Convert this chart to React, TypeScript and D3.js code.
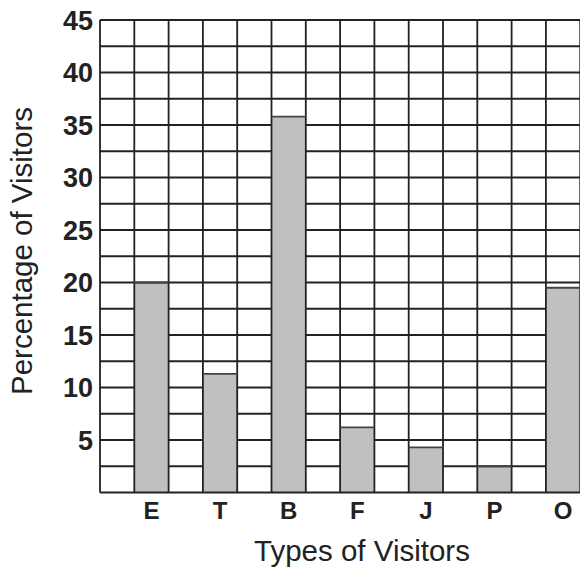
import React from "react";
import * as d3 from "d3";

const categories = ["E", "T", "B", "F", "J", "P", "O"];
const values = [20, 11.3, 35.8, 6.2, 4.3, 2.5, 19.5];
const yTicks = [5, 10, 15, 20, 25, 30, 35, 40, 45];
const yGrid = d3.range(0, 45.01, 2.5);
const columns = d3.range(0, 15);

export default function App() {
  const W = 580, H = 570;
  const left = 100, top = 20, bottom = 492.5;
  const colW = 34.3;
  const y = d3.scaleLinear().domain([0, 45]).range([bottom, top]);
  const x = (i: number) => left + i * colW;
  const right = x(14);
  const font = "'Liberation Sans', Arial, sans-serif";
  return (
    <svg width={W} height={H} style={{ position: "absolute", left: 0, top: 0 }}>
      <rect x={0} y={0} width={W} height={H} fill="#fff" />
      {categories.map((c, i) => (
        <rect key={c} x={x(2 * i + 1)} y={y(values[i])} width={colW} height={bottom - y(values[i])}
          fill="#c0c0c0" />
      ))}
      {yGrid.map((v) => {
        const segs: [number, number][] = [];
        let start = left;
        categories.forEach((c, i) => {
          if (values[i] > v && v > 0) {
            segs.push([start, x(2 * i + 1)]);
            start = x(2 * i + 2);
          }
        });
        segs.push([start, right]);
        return segs.map(([a, b], k) => (
          <line key={v + "-" + k} x1={a} x2={b} y1={y(v)} y2={y(v)} stroke="#222" strokeWidth={1.8} />
        ));
      })}
      {columns.map((i) => (
        <line key={"c" + i} x1={x(i)} x2={x(i)} y1={top} y2={bottom} stroke="#222" strokeWidth={1.8} />
      ))}
      {categories.map((c, i) => (
        <line key={"t" + c} x1={x(2 * i + 1)} x2={x(2 * i + 2)} y1={y(values[i])} y2={y(values[i])}
          stroke="#444" strokeWidth={1.8} />
      ))}
      {yTicks.map((t) => (
        <text key={t} x={93} y={y(t)} dy="0.36em" textAnchor="end" fontFamily={font}
          fontWeight="bold" fontSize={27} fill="#222">{t}</text>
      ))}
      {categories.map((c, i) => (
        <text key={"l" + c} x={x(2 * i + 1) + colW / 2} y={519} textAnchor="middle" fontFamily={font}
          fontWeight="bold" fontSize={24} fill="#222">{c}</text>
      ))}
      <text x={362} y={560.5} textAnchor="middle" fontFamily={font} fontSize={29.5} fill="#222">Types of Visitors</text>
      <text transform={`translate(32,251) rotate(-90)`} textAnchor="middle" fontFamily={font}
        fontSize={29.5} fill="#222">Percentage of Visitors</text>
    </svg>
  );
}
